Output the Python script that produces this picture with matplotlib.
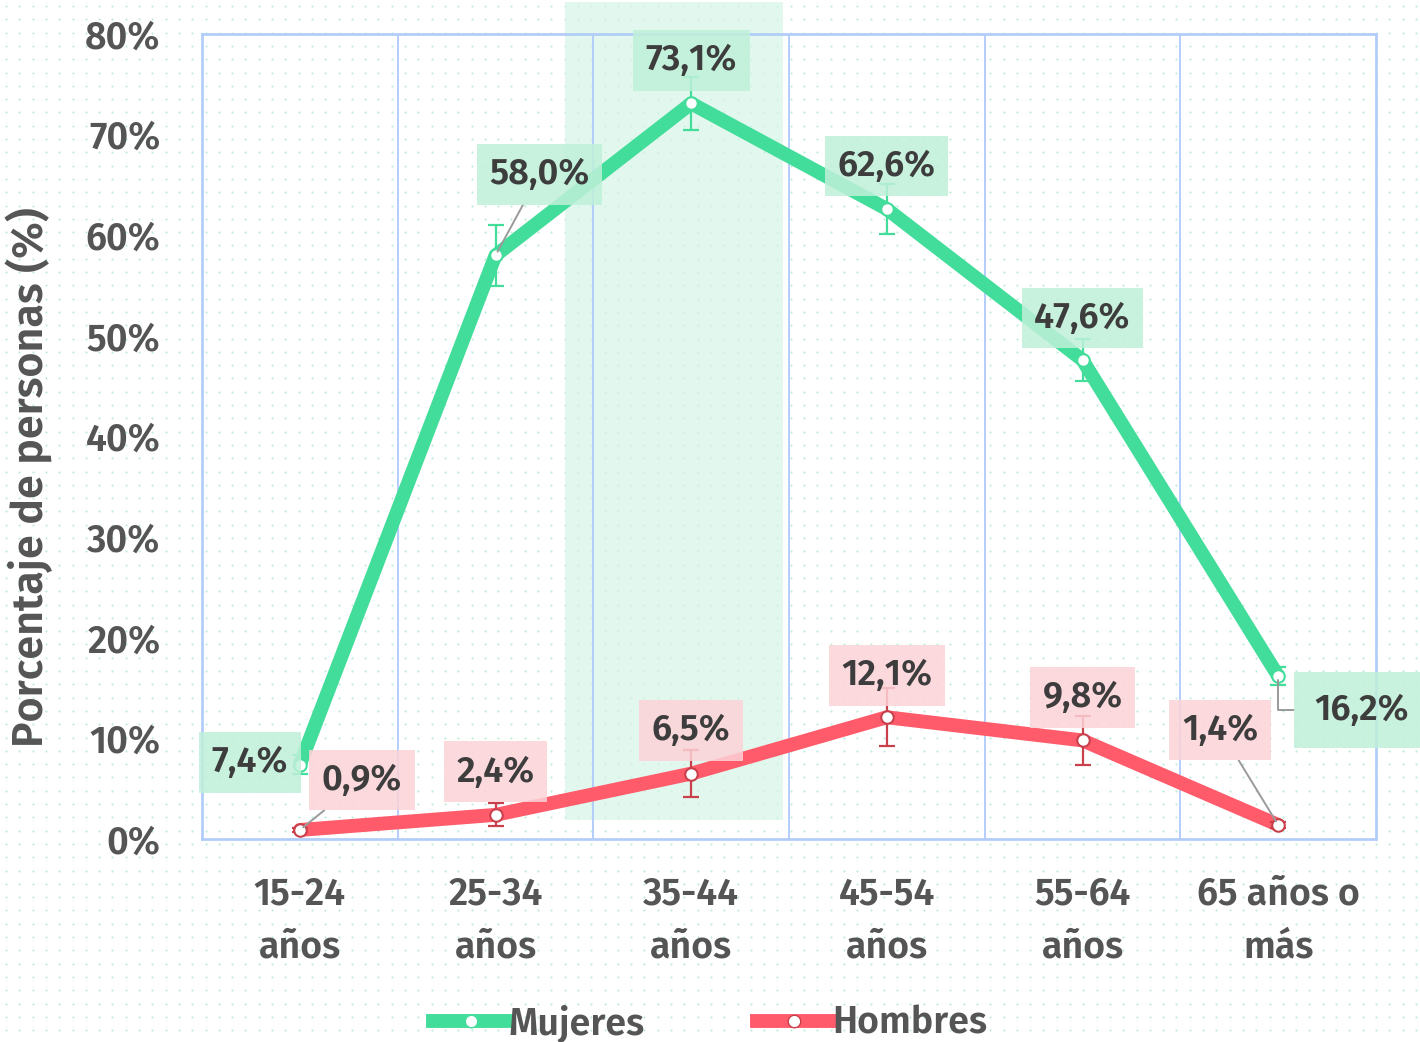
import numpy as np
import matplotlib
matplotlib.use("Agg")
import matplotlib.pyplot as plt
from matplotlib.lines import Line2D
from matplotlib.patches import Rectangle

plt.rcParams["font.family"] = ["Fira Sans", "DejaVu Sans"]

# data
categories = ["15-24\naños", "25-34\naños", "35-44\naños", "45-54\naños",
              "55-64\naños", "65 años o\nmás"]
mujeres = [7.4, 58.0, 73.1, 62.6, 47.6, 16.2]
mujeres_err = [0.9, 3.0, 2.6, 2.5, 2.1, 0.9]
hombres = [0.9, 2.4, 6.5, 12.1, 9.8, 1.4]
hombres_err = [0.2, 1.15, 2.3, 2.9, 2.4, 0.3]
yticks = [0, 10, 20, 30, 40, 50, 60, 70, 80]

GREEN = "#43dd9b"
RED = "#ff5b6b"
RED_DARK = "#c9404c"
FRAME = "#b3cdfb"
TXT = "#3d3d3d"
TICK = "#555555"
W = "semibold"

fig = plt.figure(figsize=(14.2, 10.42), dpi=100)
fig.patch.set_facecolor("white")

# dotted background
bg = fig.add_axes([0, 0, 1, 1], zorder=-5)
bg.set_xlim(0, 1420); bg.set_ylim(1042, 0); bg.axis("off")
gx, gy = np.meshgrid(np.arange(6, 1420, 13.3), np.arange(6, 1042, 13.3))
bg.scatter(gx.ravel(), gy.ravel(), s=2.2, color="#b9ecd9", lw=0)

ax = fig.add_axes([0.1423, 0.1948, 0.969 - 0.1423, 0.9674 - 0.1948])
ax.set_facecolor("none")
x = np.arange(len(categories))
ax.set_xlim(-0.5, len(categories) - 0.5)
ax.set_ylim(0, 80)

# highlighted column
ax.add_patch(Rectangle((1.355, 1.9), 1.115, 81.3, color="#d3f5e5", alpha=0.65,
                       lw=0, clip_on=False, zorder=0))

for b in np.arange(0.5, len(categories) - 0.5, 1):
    ax.axvline(b, color=FRAME, lw=1.4, zorder=1)
for s in ax.spines.values():
    s.set_color(FRAME); s.set_linewidth(2)

ax.plot(x, mujeres, color=GREEN, lw=10, solid_capstyle="round",
        solid_joinstyle="round", zorder=3)
ax.plot(x, hombres, color=RED, lw=10, solid_capstyle="round",
        solid_joinstyle="round", zorder=3)
ax.errorbar(x, mujeres, yerr=mujeres_err, fmt="none", ecolor=GREEN, elinewidth=1.6,
            capsize=6, capthick=1.6, zorder=4)
ax.errorbar(x, hombres, yerr=hombres_err, fmt="none", ecolor=RED_DARK, elinewidth=1.6,
            capsize=6, capthick=1.6, zorder=4)
ax.plot(x, mujeres, "o", ms=9, mfc="white", mec=GREEN, mew=1.5, zorder=5)
ax.plot(x, hombres, "o", ms=9, mfc="white", mec=RED_DARK, mew=1.5, zorder=5)

# value labels: offsets in pixels from point to label centre
m_off = [(-50, 2), (44, 81), (0, 43), (0, 43), (0, 42), (83, -34)]
h_off = [(62, 50), (0, 43), (0, 43), (0, 42), (0, 43), (-58, 95)]


def fmt(v):
    return f"{v:.1f}%".replace(".", ",")


def label(xi, v, off, face, conn=None, pad=0.35):
    ap = None
    if conn is not None:
        ap = dict(arrowstyle="-", color="#9a9a9a", lw=1.4, connectionstyle=conn,
                  shrinkA=0, shrinkB=3)
    ax.annotate(fmt(v), (xi, v), xytext=off, textcoords="offset pixels",
                ha="center", va="center", fontsize=26, fontweight=W,
                color=TXT, zorder=6, annotation_clip=False,
                bbox=dict(boxstyle=f"square,pad={pad}", fc=face, ec="none", alpha=0.85),
                arrowprops=ap)


for i, (v, o) in enumerate(zip(mujeres, m_off)):
    conn = None
    if i == 1:
        conn = "arc3"
    if i == 5:
        conn = "angle,angleA=0,angleB=90,rad=0"
    label(i, v, o, "#bff0d9", conn, pad=0.55 if i == 5 else 0.35)
for i, (v, o) in enumerate(zip(hombres, h_off)):
    conn = "arc3" if i in (0, 5) else None
    label(i, v, o, "#fcd3d7", conn)

ax.set_yticks(yticks, [f"{t}%" for t in yticks])
ax.set_xticks(x, categories)
ax.tick_params(axis="y", length=0, pad=30, labelsize=27, labelcolor=TICK)
ax.tick_params(axis="x", length=0, pad=26, labelsize=27, labelcolor=TICK)
for t in ax.get_xticklabels() + ax.get_yticklabels():
    t.set_fontweight(W)
    t.set_linespacing(1.55)
ax.set_ylabel("Porcentaje de personas (%)", fontsize=31, color=TICK, fontweight=W)
ax.yaxis.set_label_coords(-0.127, 0.45)

handles = [Line2D([], [], color=GREEN, lw=10, marker="o", ms=9, mfc="white", mec=GREEN),
           Line2D([], [], color=RED, lw=10, marker="o", ms=9, mfc="white", mec=RED_DARK)]
leg = fig.legend(handles, ["Mujeres", "Hombres"], loc="center",
                 bbox_to_anchor=(0.5, 0.018), ncol=2, frameon=False,
                 fontsize=27, handlelength=2.0, handletextpad=0.0,
                 columnspacing=3.0, labelcolor=TICK)
for t in leg.get_texts():
    t.set_fontweight(W)

fig.savefig("out.png", dpi=100)
